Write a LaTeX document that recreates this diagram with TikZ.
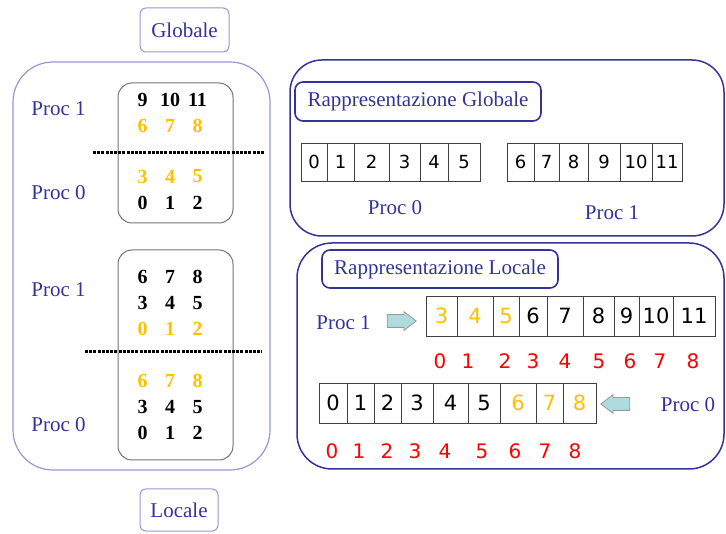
\documentclass[tikz,border=0pt]{standalone}
\usepackage{fontspec}
\setmainfont{Liberation Serif}
\newfontfamily\cellfont{DejaVu Sans}
\usepackage{xcolor}
\usepackage{tikz}
\usetikzlibrary{matrix,shapes.arrows}

\definecolor{procblue}{RGB}{51,51,153}
\definecolor{lightframe}{RGB}{150,150,215}
\definecolor{gold}{RGB}{255,192,0}
\definecolor{arrowfill}{RGB}{175,220,222}

\tikzset{
 proc/.style={text=procblue, font=\fontsize{21}{25}\selectfont},
 tagbox/.style={draw=lightframe, rounded corners=6pt, line width=1pt, proc},
 titlebox/.style={draw=procblue, rounded corners=8pt, line width=1.6pt, proc},
 panel/.style={draw=procblue, rounded corners=32pt, line width=1.5pt},
 block/.style={draw=black!55, rounded corners=14pt, line width=1pt},
 digits/.style={matrix of nodes, nodes={anchor=center, minimum width=27.5pt, minimum height=26pt, inner sep=0pt, font=\bfseries\fontsize{20}{24}\selectfont}, column sep=0pt, row sep=0pt},
 divider/.style={line width=3pt, dash pattern=on 3pt off 1.2pt},
 cell/.style={draw=black!75, line width=0.8pt, inner sep=0pt, minimum height=38pt, font=\cellfont\fontsize{18}{22}\selectfont},
 lcell/.style={cell, minimum height=40pt, font=\cellfont\fontsize{21}{25}\selectfont},
 idx/.style={text=red, font=\cellfont\fontsize{20}{24}\selectfont},
 bigarrow/.style={single arrow, draw=gray!80, fill=arrowfill, line width=0.8pt, inner xsep=0pt, inner ysep=6pt, minimum height=29pt, single arrow head extend=3pt, single arrow tip angle=75}
}

\begin{document}
\begin{tikzpicture}[x=1pt,y=-1pt]
\useasboundingbox (0,0) rectangle (726,534);

% left: global and local numbering per process
\node[tagbox, minimum width=89pt, minimum height=44pt] (globale) at (184.5,30) {Globale};
\node[tagbox, minimum width=78pt, minimum height=42pt] (locale) at (179,510) {Locale};
\node[panel, draw=lightframe, line width=1.2pt, rounded corners=40pt, minimum width=257pt, minimum height=408pt] (vista) at (141.5,266) {};

\node[block, minimum width=115pt, minimum height=140pt] (blk1) at (175.5,153) {};
\matrix[digits, row 2/.style={nodes={text=gold}}, row 3/.style={nodes={text=gold}}] (mglob) at (170,151) {
 9 & 10 & 11 \\
 6 & 7 & 8 \\[25pt]
 3 & 4 & 5 \\
 0 & 1 & 2 \\
};
\draw[divider] (93,153) -- (265,153);
\node[proc] (g1) at (58.5,109) {Proc 1};
\node[proc] (g0) at (58.5,192.5) {Proc 0};

\node[block, minimum width=115pt, minimum height=210pt] (blk2) at (175.5,355) {};
\matrix[digits, row 3/.style={nodes={text=gold}}, row 4/.style={nodes={text=gold}}] (mloc) at (170,355) {
 6 & 7 & 8 \\
 3 & 4 & 5 \\
 0 & 1 & 2 \\[26pt]
 6 & 7 & 8 \\
 3 & 4 & 5 \\
 0 & 1 & 2 \\
};
\draw[divider] (85,352) -- (262,352);
\node[proc] (l1) at (58.5,289.5) {Proc 1};
\node[proc] (l0) at (58.5,424.5) {Proc 0};

% right, top: global representation
\node[panel, minimum width=434pt, minimum height=176pt] (pglob) at (507,148) {};
\node[titlebox, minimum width=246pt, minimum height=39pt] (rglob) at (418,101.5) {Rappresentazione Globale};
\foreach \l/\r/\d [count=\k] in {301/327/0,327/354/1,354/389/2,389/420/3,420/448/4,448/480/5}
  \node[cell, minimum width={\r-\l}] (ga\k) at ({(\l+\r)/2},162) {\d};
\foreach \l/\r/\d [count=\k] in {507/534/6,534/559/7,559/588/8,588/620/9,620/652/10,652/682/11}
  \node[cell, minimum width={\r-\l}] (gb\k) at ({(\l+\r)/2},162) {\d};
\node[proc] (pg0) at (395,208) {Proc 0};
\node[proc] (pg1) at (612,213) {Proc 1};

% right, bottom: local representation
\node[panel, rounded corners=35pt, minimum width=427pt, minimum height=226pt] (ploc) at (510.5,356) {};
\node[titlebox, minimum width=236pt, minimum height=38pt] (rloc) at (440,269) {Rappresentazione Locale};

\node[proc] (pl1) at (343.5,323) {Proc 1};
\node[bigarrow] (ar1) at (397.5,321) {};
\foreach \l/\r/\d/\c [count=\k] in {426/457/3/gold,457/493/4/gold,493/519/5/gold,519/547/6/black,547/583/7/black,583/614/8/black,614/639/9/black,639/673/10/black,673/715/11/black}
  \node[lcell, text=\c, minimum width={\r-\l}] (la\k) at ({(\l+\r)/2},316) {\d};
\foreach \x [count=\k from 0] in {440,468,505,533,565,599,630,660,693}
  \node[idx] (ia\k) at (\x,361.5) {\k};

\foreach \l/\r/\d/\c [count=\k] in {319/347/0/black,347/374/1/black,374/401/2/black,401/433/3/black,433/468/4/black,468/500/5/black,500/536/6/gold,536/563/7/gold,563/596/8/gold}
  \node[lcell, text=\c, minimum width={\r-\l}] (lb\k) at ({(\l+\r)/2},403) {\d};
\node[bigarrow, shape border rotate=180] (ar0) at (619.5,404) {};
\node[proc] (pl0) at (688,404.5) {Proc 0};
\foreach \x [count=\k from 0] in {332,359,387,415,445,482,515,545,575}
  \node[idx] (ib\k) at (\x,451.5) {\k};
\end{tikzpicture}
\end{document}
